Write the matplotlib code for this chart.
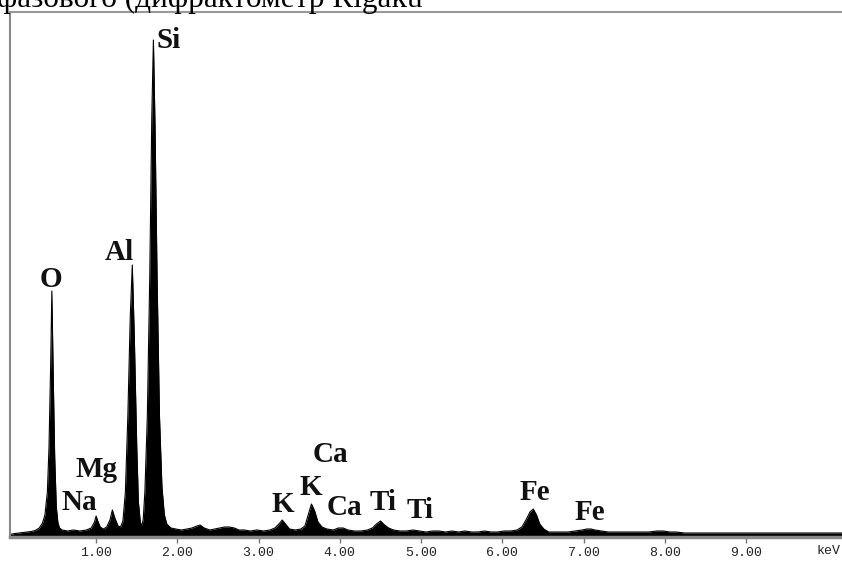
import matplotlib.pyplot as plt

# EDS spectrum outline (keV, counts above the axis)
energy = [-0.06, 0.00, 0.05, 0.10, 0.15, 0.20, 0.25, 0.30, 0.34, 0.37, 0.40, 0.42, 0.44, 0.455,
          0.47, 0.49, 0.51, 0.53, 0.55, 0.58, 0.65, 0.72, 0.80, 0.88, 0.94, 0.98, 1.00, 1.02,
          1.05, 1.09, 1.13, 1.17, 1.20, 1.23, 1.27, 1.30, 1.33, 1.36, 1.39, 1.42, 1.445, 1.47,
          1.50, 1.52, 1.545, 1.565, 1.58, 1.60, 1.63, 1.66, 1.685, 1.705, 1.725, 1.75, 1.78,
          1.81, 1.84, 1.87, 1.92, 1.98, 2.05, 2.12, 2.18, 2.24, 2.28, 2.33, 2.40, 2.46, 2.52,
          2.58, 2.64, 2.70, 2.76, 2.82, 2.90, 2.98, 3.06, 3.14, 3.20, 3.25, 3.29, 3.33, 3.38,
          3.45, 3.52, 3.57, 3.61, 3.65, 3.69, 3.73, 3.78, 3.84, 3.92, 3.98, 4.04, 4.10, 4.18,
          4.26, 4.34, 4.40, 4.45, 4.50, 4.55, 4.60, 4.66, 4.74, 4.82, 4.90, 4.98, 5.06, 5.14,
          5.22, 5.30, 5.38, 5.46, 5.54, 5.62, 5.70, 5.78, 5.86, 5.94, 6.02, 6.10, 6.18, 6.24,
          6.29, 6.34, 6.38, 6.42, 6.46, 6.51, 6.57, 6.65, 6.73, 6.81, 6.90, 6.98, 7.04, 7.09,
          7.14, 7.22, 7.30, 7.40, 7.50, 7.60, 7.70, 7.80, 7.90, 7.98, 8.06, 8.14, 8.24, 8.34,
          8.44, 8.54, 8.64, 8.74, 8.84, 8.94, 9.04, 9.14, 9.24, 9.34, 9.44, 9.54, 9.64, 9.74,
          9.84, 9.94, 10.04, 10.20]
counts = [2.5, 3.5, 4, 4.5, 5, 5.5, 6.5, 9, 14, 22, 45, 90, 170, 246,
          170, 80, 30, 14, 9, 7, 6, 7, 6, 7, 9, 15, 21, 16,
          10, 8, 10, 17, 27, 19, 11, 10, 16, 45, 120, 220, 272, 200,
          90, 35, 14, 12, 18, 45, 120, 260, 420, 497, 410, 260, 120,
          50, 22, 13, 9, 8, 7, 8, 9, 11, 12, 9, 7, 8, 9,
          10, 10, 9, 7, 7, 6, 7, 6, 7, 9, 13, 17, 13, 8,
          7, 8, 11, 22, 33, 26, 15, 10, 8, 7, 9, 9, 7, 6,
          6, 7, 9, 13, 16, 12, 9, 7, 6, 6, 7, 6, 5, 6,
          6, 5, 6, 5, 6, 5, 5, 6, 5, 5, 6, 6, 7, 10,
          17, 25, 28, 22, 13, 8, 5, 5, 5, 5, 6, 7, 8, 8,
          7, 6, 5, 5, 5, 5, 5, 5, 6, 6, 5, 5, 4, 4,
          4, 4, 4, 4, 4, 4, 4, 4, 4, 4, 4, 4, 4, 4,
          4, 4, 4, 4]

# Element labels (text, keV of left edge, baseline counts)
label_text = ['O', 'Na', 'Mg', 'Al', 'Si', 'K', 'K', 'Ca', 'Ca', 'Ti', 'Ti', 'Fe', 'Fe']
label_x = [0.30, 0.58, 0.74, 1.11, 1.74, 3.16, 3.50, 3.66, 3.84, 4.36, 4.82, 6.21, 6.89]
label_y = [250, 27, 60, 277, 489, 25, 42, 75, 22, 27, 19, 37, 17]

tick_pos = [1, 2, 3, 4, 5, 6, 7, 8, 9]
tick_lab = ['1.00', '2.00', '3.00', '4.00', '5.00', '6.00', '7.00', '8.00', '9.00']

fig = plt.figure(figsize=(8.42, 5.65), dpi=100)
ax = fig.add_axes([10 / 842, 1 - 537 / 565, 1 - 10 / 842, 525 / 565])

ax.fill_between(energy, counts, 0, color='black', lw=0)
ax.plot(energy, counts, color='black', lw=0.8)

for t, x, y in zip(label_text, label_x, label_y):
    ax.text(x, y, t, fontsize=21, fontweight='bold', family='Liberation Serif',
            va='baseline', ha='left', color='#111111')

ax.set_xlim(-0.06, 10.18)
ax.set_ylim(0, 525)
ax.set_yticks([])
ax.set_xticks(tick_pos)
ax.set_xticklabels(tick_lab, family='Liberation Mono', fontsize=9.5, color='#222222')
ax.tick_params(axis='x', direction='out', length=4, width=1, color='#777777', pad=3)
ax.text(9.87, -14, 'keV', family='Liberation Mono', fontsize=9.5, color='#222222',
        ha='left', va='center', clip_on=False)

ax.spines['right'].set_visible(False)
ax.spines['bottom'].set_color('#888888')
ax.spines['bottom'].set_linewidth(2.5)
ax.spines['left'].set_color('#888888')
ax.spines['left'].set_linewidth(1.5)
ax.spines['top'].set_color('#999999')
ax.spines['top'].set_linewidth(1.5)

# caption text cut off at the top of the picture
fig.text(-0.004, 1 - 7 / 565, 'фазового (дифрактометр Rigaku', family='Liberation Serif',
         fontsize=22.5, va='baseline', ha='left', color='black')

fig.savefig('out.png', dpi=100)
